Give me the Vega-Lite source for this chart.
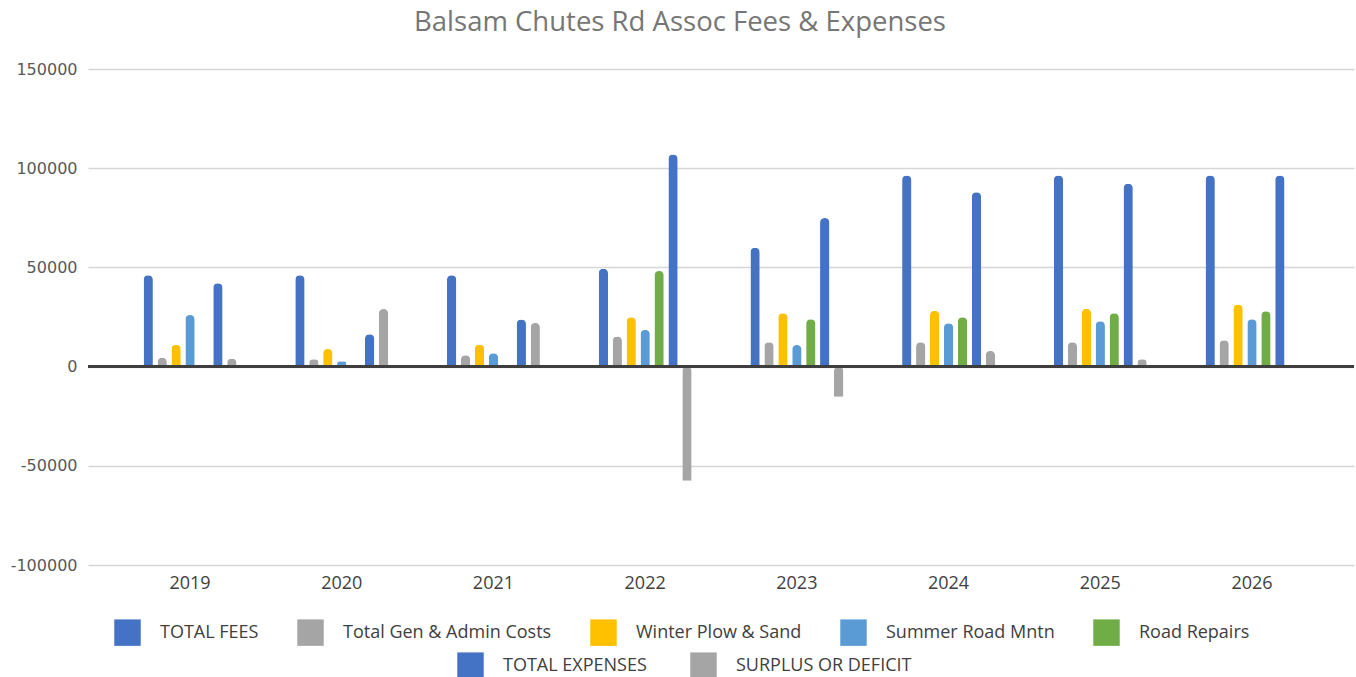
{
  "$schema": "https://vega.github.io/schema/vega-lite/v6.json",
  "autosize": {"type": "none"},
  "width": 1266,
  "height": 496,
  "padding": {"left": 88, "top": 69, "right": 2, "bottom": 112},
  "background": "white",
  "title": {
    "text": "Balsam Chutes Rd Assoc Fees & Expenses",
    "font": "Open Sans",
    "fontSize": 27.5,
    "fontWeight": "normal",
    "color": "#767676",
    "anchor": "middle",
    "frame": "group",
    "dx": -41,
    "offset": 25
  },
  "data": {
    "values": [
      {"year": "2019", "series": "TOTAL FEES", "value": 46000},
      {"year": "2019", "series": "Total Gen & Admin Costs", "value": 4500},
      {"year": "2019", "series": "Winter Plow & Sand", "value": 11000},
      {"year": "2019", "series": "Summer Road Mntn", "value": 26000},
      {"year": "2019", "series": "TOTAL  EXPENSES", "value": 42000},
      {"year": "2019", "series": "SURPLUS OR DEFICIT", "value": 4000},
      {"year": "2020", "series": "TOTAL FEES", "value": 46000},
      {"year": "2020", "series": "Total Gen & Admin Costs", "value": 3700},
      {"year": "2020", "series": "Winter Plow & Sand", "value": 8900},
      {"year": "2020", "series": "Summer Road Mntn", "value": 2700},
      {"year": "2020", "series": "TOTAL  EXPENSES", "value": 16300},
      {"year": "2020", "series": "SURPLUS OR DEFICIT", "value": 29000},
      {"year": "2021", "series": "TOTAL FEES", "value": 46000},
      {"year": "2021", "series": "Total Gen & Admin Costs", "value": 5700},
      {"year": "2021", "series": "Winter Plow & Sand", "value": 11100},
      {"year": "2021", "series": "Summer Road Mntn", "value": 6700},
      {"year": "2021", "series": "TOTAL  EXPENSES", "value": 23700},
      {"year": "2021", "series": "SURPLUS OR DEFICIT", "value": 22000},
      {"year": "2022", "series": "TOTAL FEES", "value": 49300},
      {"year": "2022", "series": "Total Gen & Admin Costs", "value": 15150},
      {"year": "2022", "series": "Winter Plow & Sand", "value": 24900},
      {"year": "2022", "series": "Summer Road Mntn", "value": 18500},
      {"year": "2022", "series": "Road Repairs", "value": 48150},
      {"year": "2022", "series": "TOTAL  EXPENSES", "value": 106900},
      {"year": "2022", "series": "SURPLUS OR DEFICIT", "value": -57500},
      {"year": "2023", "series": "TOTAL FEES", "value": 59900},
      {"year": "2023", "series": "Total Gen & Admin Costs", "value": 12300},
      {"year": "2023", "series": "Winter Plow & Sand", "value": 26900},
      {"year": "2023", "series": "Summer Road Mntn", "value": 10900},
      {"year": "2023", "series": "Road Repairs", "value": 23900},
      {"year": "2023", "series": "TOTAL  EXPENSES", "value": 74900},
      {"year": "2023", "series": "SURPLUS OR DEFICIT", "value": -15150},
      {"year": "2024", "series": "TOTAL FEES", "value": 96300},
      {"year": "2024", "series": "Total Gen & Admin Costs", "value": 12300},
      {"year": "2024", "series": "Winter Plow & Sand", "value": 28100},
      {"year": "2024", "series": "Summer Road Mntn", "value": 21900},
      {"year": "2024", "series": "Road Repairs", "value": 24900},
      {"year": "2024", "series": "TOTAL  EXPENSES", "value": 87900},
      {"year": "2024", "series": "SURPLUS OR DEFICIT", "value": 7900},
      {"year": "2025", "series": "TOTAL FEES", "value": 96300},
      {"year": "2025", "series": "Total Gen & Admin Costs", "value": 12300},
      {"year": "2025", "series": "Winter Plow & Sand", "value": 29100},
      {"year": "2025", "series": "Summer Road Mntn", "value": 22900},
      {"year": "2025", "series": "Road Repairs", "value": 26900},
      {"year": "2025", "series": "TOTAL  EXPENSES", "value": 92100},
      {"year": "2025", "series": "SURPLUS OR DEFICIT", "value": 3700},
      {"year": "2026", "series": "TOTAL FEES", "value": 96300},
      {"year": "2026", "series": "Total Gen & Admin Costs", "value": 13300},
      {"year": "2026", "series": "Winter Plow & Sand", "value": 31300},
      {"year": "2026", "series": "Summer Road Mntn", "value": 23900},
      {"year": "2026", "series": "Road Repairs", "value": 27900},
      {"year": "2026", "series": "TOTAL  EXPENSES", "value": 96300}
    ]
  },
  "encoding": {
    "x": {
      "field": "year",
      "type": "nominal",
      "scale": {"paddingInner": 0.357, "paddingOuter": 0.351},
      "axis": {
        "title": null,
        "orient": "bottom",
        "labelAngle": 0,
        "labelFont": "Open Sans",
        "labelFontSize": 18,
        "labelColor": "#404040",
        "labelPadding": 9,
        "ticks": false,
        "domain": false,
        "grid": false
      }
    },
    "xOffset": {
      "field": "series",
      "type": "nominal",
      "scale": {
        "domain": ["TOTAL FEES", "Total Gen & Admin Costs", "Winter Plow & Sand", "Summer Road Mntn", "Road Repairs", "TOTAL  EXPENSES", "SURPLUS OR DEFICIT"],
        "paddingInner": 0.332,
        "paddingOuter": 0.166
      }
    },
    "y": {
      "field": "value",
      "type": "quantitative",
      "scale": {"domain": [-100000, 150000], "nice": false, "zero": false},
      "axis": {
        "title": null,
        "values": [-100000, -50000, 0, 50000, 100000, 150000],
        "labelExpr": "'' + datum.value",
        "labelFont": "DejaVu Sans",
        "labelFontSize": 16,
        "labelColor": "#595959",
        "labelPadding": 11,
        "ticks": false,
        "domain": false,
        "grid": true,
        "gridColor": "#d6d6d6",
        "gridWidth": 1.6
      }
    }
  },
  "layer": [
    {
      "transform": [{"filter": {"field": "series", "oneOf": ["TOTAL FEES", "Total Gen & Admin Costs", "Winter Plow & Sand", "Summer Road Mntn", "Road Repairs"]}}],
      "mark": {"type": "bar", "cornerRadiusEnd": 4.5},
      "encoding": {
        "color": {
          "field": "series",
          "type": "nominal",
          "scale": {
            "domain": ["TOTAL FEES", "Total Gen & Admin Costs", "Winter Plow & Sand", "Summer Road Mntn", "Road Repairs"],
            "range": ["#4472C4", "#A5A5A5", "#FFC000", "#5B9BD5", "#70AD47"]
          },
          "legend": {
            "title": null,
            "orient": "none",
            "direction": "horizontal",
            "legendX": 26,
            "legendY": 550,
            "symbolType": "square",
            "symbolSize": 700,
            "symbolStrokeWidth": 0,
            "labelFont": "Open Sans",
            "labelFontSize": 18,
            "labelColor": "#404040",
            "labelOffset": 19,
            "columnPadding": 38,
            "labelLimit": 400
          }
        }
      }
    },
    {
      "transform": [{"filter": {"field": "series", "oneOf": ["TOTAL  EXPENSES", "SURPLUS OR DEFICIT"]}}],
      "mark": {"type": "bar", "cornerRadiusEnd": 4.5},
      "encoding": {
        "fill": {
          "field": "series",
          "type": "nominal",
          "scale": {
            "domain": ["TOTAL  EXPENSES", "SURPLUS OR DEFICIT"],
            "range": ["#4472C4", "#A5A5A5"]
          },
          "legend": {
            "title": null,
            "orient": "none",
            "direction": "horizontal",
            "legendX": 369,
            "legendY": 583,
            "symbolType": "square",
            "symbolSize": 700,
            "symbolStrokeWidth": 0,
            "labelFont": "Open Sans",
            "labelFontSize": 18,
            "labelColor": "#404040",
            "labelOffset": 19,
            "columnPadding": 38,
            "labelLimit": 400
          }
        }
      }
    },
    {
      "mark": {"type": "rule", "color": "#3f3f3f", "strokeWidth": 1.6},
      "encoding": {"y": {"datum": 0}, "x": null, "xOffset": null}
    }
  ],
  "config": {
    "view": {"stroke": null},
    "axis": {"labelFontWeight": "normal"}
  }
}
